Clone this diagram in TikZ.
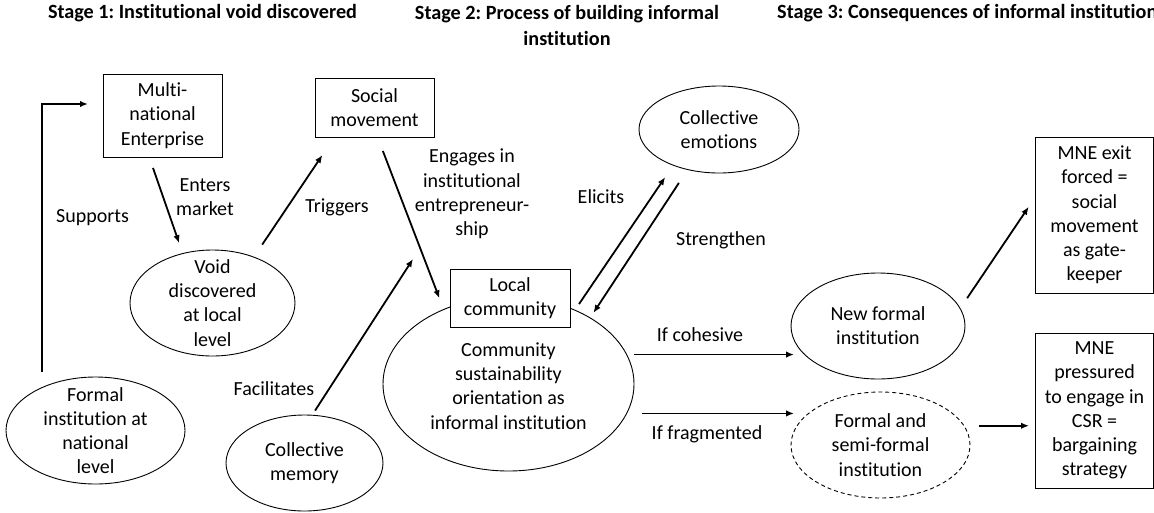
\documentclass[tikz,border=0pt]{standalone}
\usepackage{fontspec}
\setmainfont[Ligatures=NoCommon]{Carlito}
\usepackage{tikz}
\usetikzlibrary{arrows.meta,shapes.geometric}
\frenchspacing
\newcommand{\diagfont}{\fontsize{20pt}{24.2pt}\selectfont}
\newcommand{\stagefont}{\fontsize{20.2pt}{25.6pt}\selectfont\bfseries}
\tikzset{
    boxnode/.style = {
        align=center,
        rectangle,
        draw=black,
        fill=white,
        font=\diagfont,
        line width=0.9pt,
        inner sep=0pt,
        outer sep=0pt
    },
    ovalnode/.style = {
        ellipse,
        draw=black,
        line width=0.9pt,
        inner sep=0pt,
        outer sep=0pt
    },
    dashedovalnode/.style = {
        ovalnode,
        dash pattern=on 4pt off 3pt
    },
    textnode/.style = {
        align=center,
        font=\diagfont,
        inner sep=0pt
    },
    stagenode/.style = {
        textnode,
        font=\stagefont
    },
    linkarrow/.style = {
        -{Latex[length=8pt,width=6.5pt]},
        line width=1.8pt
    }
}

\begin{document}
\begin{tikzpicture}[x=1pt, y=-1pt]
    \useasboundingbox (0,0) rectangle (1154,512);
    \clip (0,0) rectangle (1154,512);
    \node [stagenode] (stage1) at (202.5,13) {Stage 1: Institutional void discovered};
    \node [stagenode] (stage2) at (567,25.5) {Stage 2: Process of building informal\\institution};
    \node [stagenode, anchor=west] (stage3) at (777,13) {Stage 3: Consequences of informal institution};

    \node [boxnode, minimum width=119, minimum height=83] (mne) at (162.5,115.5) {Multi-\\national\\Enterprise};
    \node [boxnode, minimum width=119, minimum height=59] (social) at (374.5,107.5) {Social\\movement};
    \node [ovalnode, minimum width=160, minimum height=87] (emotions) at (719,129.5) {};
    \node [textnode] (emotionstext) at (emotions) {Collective\\emotions};
    \node [ovalnode, minimum width=165, minimum height=106] (void) at (212.5,303) {};
    \node [textnode] (voidtext) at (void) {Void\\discovered\\at local\\level};
    \node [ovalnode, minimum width=179, minimum height=107] (formal) at (95.5,430.5) {};
    \node [textnode] (formaltext) at (formal) {Formal\\institution at\\national\\level};
    \node [ovalnode, minimum width=157, minimum height=96] (memory) at (304.5,463) {};
    \node [textnode] (memorytext) at (memory) {Collective\\memory};
    \node [ovalnode, minimum width=251, minimum height=174] (community) at (508.5,384) {};
    \node [textnode] (communitytext) at ([yshift=-2pt]community.center) {Community\\sustainability\\orientation as\\informal institution};
    \node [boxnode, minimum width=120, minimum height=58] (local) at (510,298) {Local\\community};
    \node [ovalnode, minimum width=174, minimum height=106] (newformal) at (878,326) {};
    \node [textnode] (newformaltext) at (newformal) {New formal\\institution};
    \node [dashedovalnode, minimum width=179, minimum height=106] (semiformal) at (880.5,445) {};
    \node [textnode] (semiformaltext) at (semiformal) {Formal and\\semi-formal\\institution};
    \node [boxnode, minimum width=118, minimum height=156] (exit) at (1094.5,215) {MNE exit\\forced =\\social\\movement\\as gate-\\keeper};
    \node [boxnode, minimum width=118, minimum height=155] (pressured) at (1094.5,410.5) {MNE\\pressured\\to engage in\\CSR =\\bargaining\\strategy};

    \draw [linkarrow, shorten <=15.5pt, shorten >=15pt] (formal.141) |- ([yshift=11.5pt]mne.west);
    \draw [linkarrow, shorten <=11.6pt, shorten >=11pt] ([xshift=-13.3pt]mne.south) -- (void.121);
    \draw [linkarrow, shorten <=15pt, shorten >=21.7pt] (void.48) -- ([xshift=-40pt]social.south);
    \draw [linkarrow, shorten <=15pt, shorten >=12pt] ([xshift=3pt]social.south) -- coordinate[pos=0.6435] (engaging) (community.131);
    \draw [linkarrow, shorten <=5.5pt, shorten >=13.1pt] (memory.81) -- (engaging);
    \draw [linkarrow, shorten <=16pt, shorten >=14.4pt] ([yshift=-19.3pt]local.east) -- (emotions.218);
    \draw [linkarrow, shorten <=16pt, shorten >=6pt] (emotions.232) -- (community.39);
    \draw [linkarrow, shorten <=7.5pt, shorten >=-3pt] (community.14) -- (community.14 -| newformal.west);
    \draw [linkarrow, shorten <=15.5pt, shorten >=-3pt] (community.-14) -- (community.-14 -| semiformal.west);
    \draw [linkarrow, shorten <=12.5pt, shorten >=12.2pt] (newformal.12) -- ([yshift=18.3pt]exit.west);
    \draw [linkarrow, shorten <=15pt, shorten >=6.5pt] (semiformal.13) -- (semiformal.13 -| pressured.west);

    \node [textnode] (supports) at (92.5,218) {Supports};
    \node [textnode] (enters) at (205,197) {Enters\\market};
    \node [textnode] (triggers) at (337,207) {Triggers};
    \node [textnode] (engages) at (472,194) {Engages in\\institutional\\entrepreneur-\\ship};
    \node [textnode] (facilitates) at (274,389) {Facilitates};
    \node [textnode] (elicits) at (601,197) {Elicits};
    \node [textnode] (strengthen) at (721,240) {Strengthen};
    \node [textnode] (cohesive) at (700,335) {If cohesive};
    \node [textnode] (fragmented) at (707,434) {If fragmented};
\end{tikzpicture}
\end{document}
